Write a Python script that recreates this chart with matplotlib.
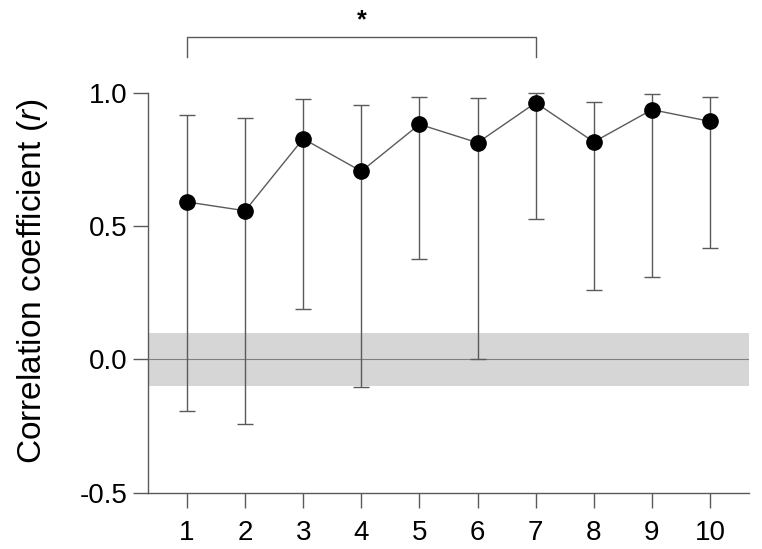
import numpy as np
import matplotlib
matplotlib.use("Agg")
import matplotlib.pyplot as plt

plt.rcParams["font.family"] = ["Liberation Sans", "DejaVu Sans"]
plt.rcParams["mathtext.fontset"] = "custom"
plt.rcParams["mathtext.it"] = "Liberation Sans:italic"
plt.rcParams["mathtext.rm"] = "Liberation Sans"

# Data
conditions = [1, 2, 3, 4, 5, 6, 7, 8, 9, 10]
r_mean = [0.590, 0.557, 0.827, 0.705, 0.881, 0.812, 0.962, 0.815, 0.936, 0.892]
r_upper = [0.916, 0.906, 0.975, 0.954, 0.982, 0.980, 1.000, 0.965, 0.996, 0.985]
r_lower = [-0.195, -0.243, 0.190, -0.104, 0.376, 0.000, 0.527, 0.259, 0.309, 0.418]
y_ticks = [-0.5, 0.0, 0.5, 1.0]
band_half_width = 0.1
sig_pair = (1, 7)

x = np.array(conditions)
mean = np.array(r_mean)
err = np.vstack([mean - np.array(r_lower), np.array(r_upper) - mean])

fig = plt.figure(figsize=(7.62, 5.49), dpi=100)
ax = fig.add_axes([0.1942, 0.1026, 0.7888, 0.8502])

line_col = "#5a5a5a"

# grey null band and zero line
ax.axhspan(-band_half_width, band_half_width, color="#d6d6d6", lw=0, zorder=0)
ax.axhline(0, color="#808080", lw=0.8, zorder=1)

ax.errorbar(x, mean, yerr=err, fmt="none", ecolor=line_col, elinewidth=1.0,
            capsize=5.5, capthick=1.0, zorder=2)
ax.plot(x, mean, color=line_col, lw=1.0, zorder=3)
ax.plot(x, mean, "o", color="black", markersize=11, zorder=4)

# significance bracket
y_br, y_end = 1.21, 1.135
ax.plot([sig_pair[0], sig_pair[0], sig_pair[1], sig_pair[1]],
        [y_end, y_br, y_br, y_end], color=line_col, lw=1.0, clip_on=False)
ax.text((sig_pair[0] + sig_pair[1]) / 2, y_br + 0.015, "*", ha="center",
        va="bottom", fontsize=18, fontweight="bold", clip_on=False)

ax.set_xlim(0.33, 10.67)
ax.set_ylim(-0.5, 1.25)
ax.set_xticks(x)
ax.set_yticks(y_ticks)
ax.set_yticklabels([f"{v:.1f}" for v in y_ticks])

for s in ["top", "right"]:
    ax.spines[s].set_visible(False)
ax.spines["left"].set_bounds(-0.5, 1.0)
for s in ["left", "bottom"]:
    ax.spines[s].set_color(line_col)
    ax.spines[s].set_linewidth(1.0)

ax.tick_params(axis="both", length=11, width=1.0, color=line_col, labelsize=20)
ax.tick_params(axis="x", pad=9)
ax.tick_params(axis="y", pad=4)
ax.set_ylabel("Correlation coefficient ($\\mathit{r}$)", fontsize=24)
ax.yaxis.set_label_coords(-0.163, 0.452)

fig.savefig("out.png", dpi=100)
